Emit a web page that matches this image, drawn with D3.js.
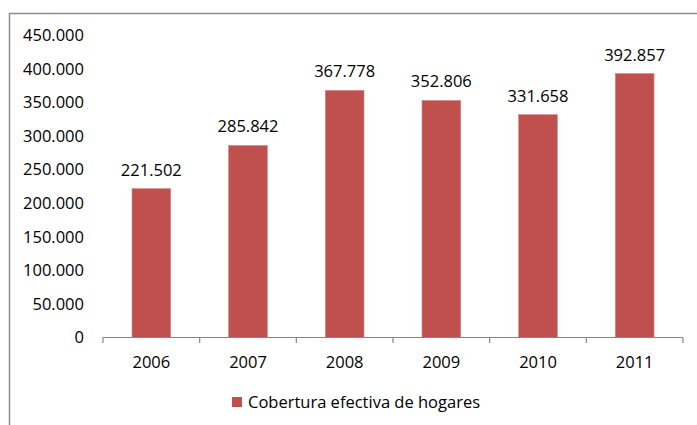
<!DOCTYPE html>
<html>
<head>
<meta charset="utf-8">
<script src="https://cdn.jsdelivr.net/npm/d3@7"></script>
<style>
  html, body { margin: 0; padding: 0; background: #fff; }
  svg text { font-family: "Open Sans", sans-serif; fill: #000; }
</style>
</head>
<body>
<div id="chart"></div>
<script>
// datos
const years = ['2006', '2007', '2008', '2009', '2010', '2011'];
const hogares = [221502, 285842, 367778, 352806, 331658, 392857];
const yTicks = [0, 50000, 100000, 150000, 200000, 250000, 300000, 350000, 400000, 450000];
const seriesName = 'Cobertura efectiva de hogares';

const W = 697, H = 425;
const barColor = '#C0504D';

const fmt = v => v === 0 ? '0' : d3.format(',')(v).replace(/,/g, '.');

const svg = d3.select('#chart').append('svg')
  .attr('width', W).attr('height', H);

// marco del gráfico (recortado a la derecha y abajo)
svg.append('path')
  .attr('d', 'M9.5,' + H + 'V13.5H' + W)
  .style('fill', 'none')
  .style('stroke', '#8c8c8c')
  .style('stroke-width', '1.5px');

const x = d3.scaleBand().domain(years).range([103, 683]).paddingInner(0.6).paddingOuter(0.3);
const y = d3.scaleLinear().domain([0, 450000]).range([337.5, 35.2]);

// barras
svg.selectAll('.bar')
  .data(hogares).enter()
  .append('rect')
  .attr('class', 'bar')
  .attr('x', (d, i) => x(years[i]))
  .attr('width', x.bandwidth())
  .attr('y', d => y(d))
  .attr('height', d => y(0) - y(d))
  .style('fill', barColor)
  .style('stroke', '#d4807d')
  .style('stroke-width', '0.6px');

// etiquetas de valores
svg.selectAll('.lbl')
  .data(hogares).enter()
  .append('text')
  .attr('x', (d, i) => x(years[i]) + x.bandwidth() / 2)
  .attr('y', d => y(d) - 13)
  .attr('text-anchor', 'middle')
  .style('font-size', '16.5px')
  .text(fmt);

// eje Y (solo etiquetas)
svg.selectAll('.ytick')
  .data(yTicks).enter()
  .append('text')
  .attr('x', 84)
  .attr('y', d => y(d))
  .attr('dy', '0.35em')
  .attr('text-anchor', 'end')
  .style('font-size', '16.5px')
  .text(fmt);

// eje X
const xAxisG = svg.append('g');
xAxisG.append('line')
  .attr('x1', 103).attr('x2', 683)
  .attr('y1', 337.5).attr('y2', 337.5)
  .style('stroke', '#868686').style('stroke-width', '1.2px');

const step = x.step();
const bounds = d3.range(years.length + 1).map(i => 103 + i * step);
xAxisG.selectAll('.tick')
  .data(bounds).enter()
  .append('line')
  .attr('x1', d => d).attr('x2', d => d)
  .attr('y1', 337.5).attr('y2', 343)
  .style('stroke', '#868686').style('stroke-width', '1.2px');

xAxisG.selectAll('.xl')
  .data(years).enter()
  .append('text')
  .attr('x', d => x(d) + x.bandwidth() / 2)
  .attr('y', 362)
  .attr('dy', '0.35em')
  .attr('text-anchor', 'middle')
  .style('font-size', '16.5px')
  .text(d => d);

// leyenda
const leg = svg.append('g');
leg.append('rect')
  .attr('x', 232).attr('y', 397)
  .attr('width', 10).attr('height', 10)
  .style('fill', barColor);
leg.append('text')
  .attr('x', 248).attr('y', 402)
  .attr('dy', '0.35em')
  .style('font-size', '16.5px')
  .text(seriesName);
</script>
</body>
</html>
